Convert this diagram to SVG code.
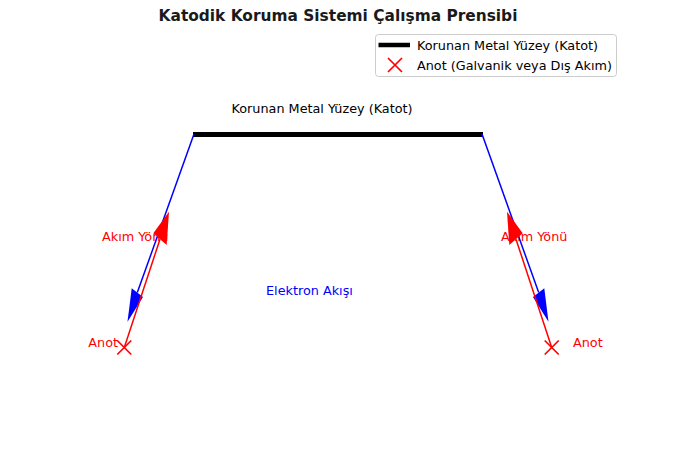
<svg xmlns="http://www.w3.org/2000/svg" width="676" height="462" viewBox="0 0 676 462">
<style>
text{font-family:"DejaVu Sans","Liberation Sans",sans-serif;font-size:12.8px}
.red{fill:#ff0000}
.blue{fill:#0000ff}
.rl{stroke:#ff0000;stroke-width:1.5;fill:none}
.bl{stroke:#0000ff;stroke-width:1.5;fill:none}
.xm{stroke:#ff0000;stroke-width:1.7;fill:none}
</style>
<rect width="676" height="462" fill="#ffffff"/>
<text x="338" y="20.5" text-anchor="middle" style="font-size:15.4px;font-weight:bold" fill="#1a1a1a">Katodik Koruma Sistemi Çalışma Prensibi</text>
<g id="cathode">
<line x1="193" y1="134.5" x2="483" y2="134.5" stroke="#000" stroke-width="5"/>
<text x="231.5" y="113">Korunan Metal Yüzey (Katot)</text>
</g>
<g id="labels">
<text class="red" x="102" y="241">Akım Yönü</text>
<text class="red" x="501" y="241">Akım Yönü</text>
<text class="blue" x="266" y="294.5">Elektron Akışı</text>
</g>
<g id="anode-left">
<path class="xm" d="M117.3 340.5 L131.3 354.5 M131.3 340.5 L117.3 354.5"/>
<text class="red" x="88.3" y="347">Anot</text>
</g>
<g id="anode-right">
<path class="xm" d="M544.7 340.5 L558.7 354.5 M558.7 340.5 L544.7 354.5"/>
<text class="red" x="573" y="347">Anot</text>
</g>
<g id="connectors">
<line class="bl" x1="194" y1="134" x2="137.3" y2="292.6"/>
<polygon class="blue" points="127.5,321.7 131.7,288.3 143,297"/>
<line class="rl" x1="124.3" y1="347.5" x2="160" y2="239.2"/>
<polygon class="red" points="169,211.7 153.3,233.3 166.7,245"/>
<line class="bl" x1="482" y1="134" x2="538.7" y2="292.6"/>
<polygon class="blue" points="548.5,321.7 544.3,288.3 533,297"/>
<line class="rl" x1="551.7" y1="347.5" x2="516" y2="239.2"/>
<polygon class="red" points="507,211.7 522.7,233.3 509.3,245"/>
</g>
<g id="legend">
<rect x="375.5" y="34.5" width="241" height="42" rx="3" fill="#ffffff" fill-opacity="0.8" stroke="#cccccc" stroke-width="1"/>
<line x1="378.5" y1="45" x2="410" y2="45" stroke="#000" stroke-width="4.5"/>
<text x="417" y="49.5">Korunan Metal Yüzey (Katot)</text>
<path class="xm" d="M388 58 L402 72 M402 58 L388 72"/>
<text x="417" y="69.5">Anot (Galvanik veya Dış Akım)</text>
</g>
</svg>
